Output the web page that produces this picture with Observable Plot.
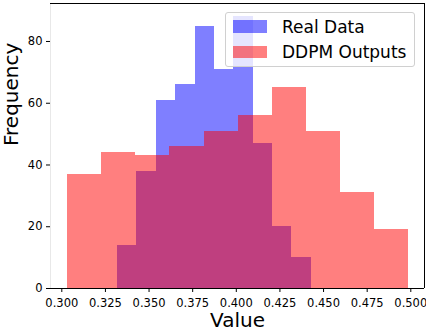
<!DOCTYPE html>
<html>
<head>
<meta charset="utf-8">
<script src="https://cdn.jsdelivr.net/npm/d3@7"></script>
<script src="https://cdn.jsdelivr.net/npm/@observablehq/plot@0.6"></script>
<style>
  html, body { margin: 0; padding: 0; background: #fff; }
  #wrap { position: relative; width: 426px; height: 332px; font-family: "DejaVu Sans", sans-serif; }
  #legend {
    position: absolute; left: 225px; top: 11.5px; width: 190px; height: 55px;
    border: 1px solid #d0d0d0; border-radius: 3px; background: rgba(255,255,255,0.8);
    box-sizing: border-box;
  }
  .sw { position: absolute; left: 6.5px; width: 34.5px; height: 12.5px; }
  .lab { position: absolute; left: 56px; font-size: 17px; color: #000; white-space: nowrap; line-height: 20px; }
</style>
</head>
<body>
<div id="wrap"></div>
<script>
// ---- data ----
const seriesNames = ["Real Data", "DDPM Outputs"];
const seriesColors = ["blue", "red"];
const realCounts = [14, 38, 61, 66, 85, 71, 88, 47, 20, 10];
const realRange = [0.3319, 0.4430];
const ddpmCounts = [37, 44, 43, 46, 51, 56, 65, 51, 31, 19];
const ddpmRange = [0.3033, 0.4988];
const xTicks = [0.300, 0.325, 0.350, 0.375, 0.400, 0.425, 0.450, 0.475, 0.500];
const yTicks = [0, 20, 40, 60, 80];
const xDomain = [0.29352, 0.50785];
const yDomain = [0, 92.3];

function bins(counts, range, name) {
  const n = counts.length, w = (range[1] - range[0]) / n;
  return counts.map((c, i) => ({x1: range[0] + i * w, x2: range[0] + (i + 1) * w, y: c, s: name}));
}
const realBins = bins(realCounts, realRange, seriesNames[0]);
const ddpmBins = bins(ddpmCounts, ddpmRange, seriesNames[1]);

const chart = Plot.plot({
  width: 426,
  height: 332,
  marginLeft: 50,
  marginRight: 2,
  marginTop: 3,
  marginBottom: 44,
  style: {fontFamily: "DejaVu Sans, sans-serif", color: "#000", background: "#fff", overflow: "visible"},
  x: {domain: xDomain},
  y: {domain: yDomain},
  marks: [
    Plot.rectY(realBins, {x1: "x1", x2: "x2", y: "y", fill: seriesColors[0], fillOpacity: 0.5, inset: 0, shapeRendering: "crispEdges"}),
    Plot.rectY(ddpmBins, {x1: "x1", x2: "x2", y: "y", fill: seriesColors[1], fillOpacity: 0.5, inset: 0, shapeRendering: "crispEdges"}),
    Plot.ruleX([xDomain[0]], {stroke: "#e8e8e8", strokeWidth: 1}),
    Plot.ruleX([xDomain[1]], {stroke: "#000", strokeWidth: 1}),
    Plot.ruleY([yDomain[1]], {stroke: "#000", strokeWidth: 1}),
    Plot.ruleY([0], {stroke: "#000", strokeWidth: 1}),
    Plot.axisX({ticks: xTicks, tickFormat: d3.format(".3f"), tickSize: 4, tickPadding: 6, fontSize: 11.5, label: null, stroke: "#000"}),
    Plot.axisY({ticks: yTicks, tickSize: 4, tickPadding: 4, fontSize: 11.5, label: null, stroke: "#000"}),
    Plot.text(["Value"], {frameAnchor: "bottom", dy: 32.5, fontSize: 20, lineAnchor: "middle", fill: "#000"}),
    Plot.text(["Frequency"], {frameAnchor: "left", dx: -39, fontSize: 20, rotate: -90, lineAnchor: "middle", fill: "#000"})
  ]
});

const wrap = document.getElementById("wrap");
wrap.appendChild(chart);

const legend = document.createElement("div");
legend.id = "legend";
const rowTops = [7, 32];
const swColors = ["rgba(0,0,255,0.5)", "rgba(255,0,0,0.5)"];
seriesNames.forEach((name, i) => {
  const sw = document.createElement("div");
  sw.className = "sw";
  sw.style.top = (rowTops[i] + (i === 0 ? 0.5 : 1.5)) + "px";
  sw.style.height = (i === 0 ? 13 : 11.5) + "px";
  sw.style.background = swColors[i];
  legend.appendChild(sw);
  const lab = document.createElement("div");
  lab.className = "lab";
  lab.style.top = (rowTops[i] - 3) + "px";
  lab.textContent = name;
  legend.appendChild(lab);
});
wrap.appendChild(legend);
</script>
</body>
</html>
